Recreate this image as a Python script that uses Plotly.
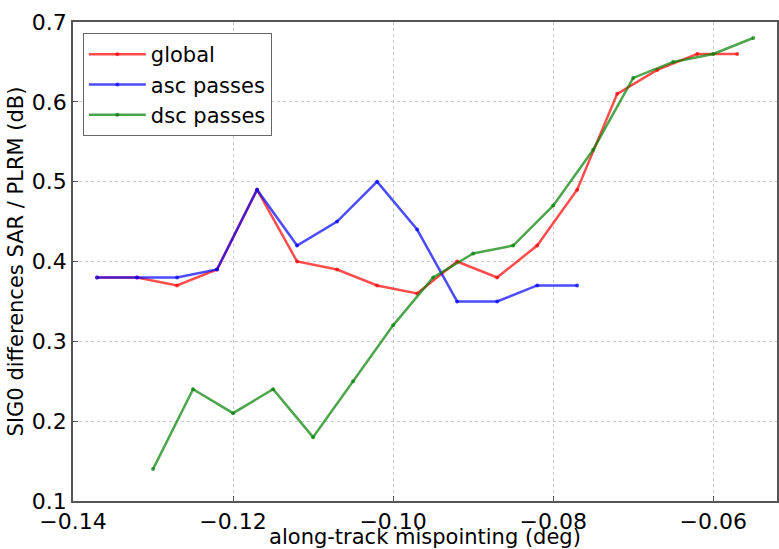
import plotly.graph_objects as go

x_global = [-0.137, -0.132, -0.127, -0.122, -0.117, -0.112, -0.107, -0.102, -0.097, -0.092,
            -0.087, -0.082, -0.077, -0.072, -0.067, -0.062, -0.057]
y_global = [0.38, 0.38, 0.37, 0.39, 0.49, 0.40, 0.39, 0.37, 0.36, 0.40,
            0.38, 0.42, 0.49, 0.61, 0.64, 0.66, 0.66]

x_asc = [-0.137, -0.132, -0.127, -0.122, -0.117, -0.112, -0.107, -0.102, -0.097, -0.092,
         -0.087, -0.082, -0.077]
y_asc = [0.38, 0.38, 0.38, 0.39, 0.49, 0.42, 0.45, 0.50, 0.44, 0.35,
         0.35, 0.37, 0.37]

x_dsc = [-0.130, -0.125, -0.120, -0.115, -0.110, -0.105, -0.100, -0.095, -0.090, -0.085,
         -0.080, -0.075, -0.070, -0.065, -0.060, -0.055]
y_dsc = [0.14, 0.24, 0.21, 0.24, 0.18, 0.25, 0.32, 0.38, 0.41, 0.42,
         0.47, 0.54, 0.63, 0.65, 0.66, 0.68]

series = [
    ("global", x_global, y_global, "rgba(255,0,0,0.7)"),
    ("asc passes", x_asc, y_asc, "rgba(0,0,255,0.7)"),
    ("dsc passes", x_dsc, y_dsc, "rgba(0,128,0,0.7)"),
]

fig = go.Figure()
for name, xs, ys, col in series:
    fig.add_trace(go.Scatter(
        x=xs, y=ys, name=name, mode="lines+markers",
        line=dict(color=col, width=2.5),
        marker=dict(color=col, size=4),
    ))

font = "DejaVu Sans"
axis_common = dict(
    showline=True, linecolor="#555", linewidth=1.5, mirror=True,
    ticks="inside", ticklen=5, tickcolor="#555",
    showgrid=True, gridcolor="#c8c8c8", griddash="dot", gridwidth=1,
    zeroline=False,
    tickfont=dict(family=font, size=22, color="black"),
)

fig.update_layout(
    width=779, height=549,
    margin=dict(l=73, r=0, t=22, b=46),
    paper_bgcolor="white", plot_bgcolor="white",
    font=dict(family=font, color="black"),
    xaxis=dict(
        range=[-0.14, -0.05203], tickvals=[-0.14, -0.12, -0.10, -0.08, -0.06],
        tickformat=".2f",
        title=dict(text="along-track mispointing (deg)", font=dict(family=font, size=21), standoff=0),
        **axis_common,
    ),
    yaxis=dict(
        range=[0.1, 0.7], tickvals=[0.1, 0.2, 0.3, 0.4, 0.5, 0.6, 0.7],
        tickformat=".1f",
        title=dict(text="SIG0 differences SAR / PLRM (dB)", font=dict(family=font, size=21), standoff=2),
        **axis_common,
    ),
    legend=dict(
        x=0.014, y=0.977, xanchor="left", yanchor="top",
        bgcolor="white", bordercolor="#666", borderwidth=1,
        font=dict(family=font, size=21), itemwidth=57,
        tracegroupgap=2,
    ),
    showlegend=True,
)

fig.write_html("out.html")
